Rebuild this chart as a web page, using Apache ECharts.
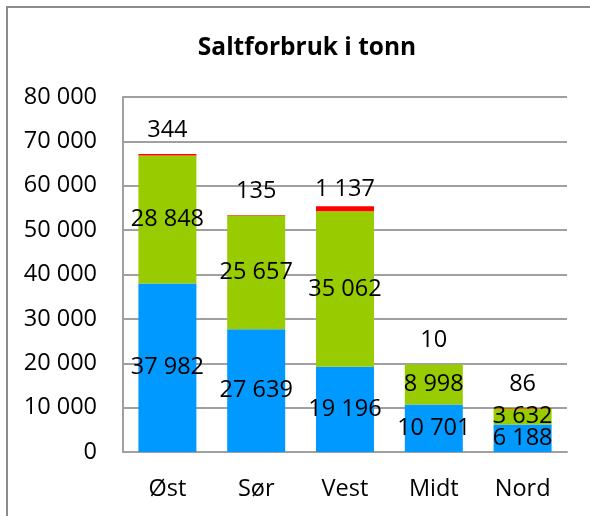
<!DOCTYPE html>
<html>
<head>
<meta charset="utf-8">
<script src="https://cdn.jsdelivr.net/npm/echarts@6/dist/echarts.min.js"></script>
<style>
  html, body { margin: 0; padding: 0; background: #fff; }
  #chart { width: 590px; height: 516px; }
</style>
</head>
<body>
<div id="chart"></div>
<script>
// regions and salt use (tonn)
var regions = ['Øst', 'Sør', 'Vest', 'Midt', 'Nord'];
var blueVals = [37982, 27639, 19196, 10701, 6188];
var greenVals = [28848, 25657, 35062, 8998, 3632];
var redVals = [344, 135, 1137, 10, 86];

var FONT = 'Open Sans';
var FS = 23.5;

function fmt(v) {
  return String(v).replace(/\B(?=(\d{3})+(?!\d))/g, ' ');
}

var chart = echarts.init(document.getElementById('chart'));
chart.setOption({
  animation: false,
  title: {
    text: 'Saltforbruk i tonn',
    left: 302,
    top: 31,
    textAlign: 'center',
    textStyle: { fontFamily: FONT, fontSize: 24.5, fontWeight: 'bold', color: '#000' }
  },
  graphic: [{
    type: 'rect',
    shape: { x: 7, y: 7, width: 620, height: 540 },
    style: { fill: 'none', stroke: '#8c8c8c', lineWidth: 2 },
    silent: true
  }],
  grid: { left: 123, right: 23, top: 97, bottom: 64 },
  xAxis: {
    type: 'category',
    data: regions,
    axisLine: { lineStyle: { color: '#a0a0a0', width: 2 } },
    axisTick: { show: false },
    axisLabel: { fontFamily: FONT, fontSize: FS, color: '#000', margin: 25 }
  },
  yAxis: {
    type: 'value',
    min: 0,
    max: 80000,
    interval: 10000,
    axisLine: { show: true, lineStyle: { color: '#a0a0a0', width: 2 } },
    axisTick: { show: false },
    splitLine: { lineStyle: { color: '#a0a0a0', width: 2 } },
    axisLabel: { fontFamily: FONT, fontSize: FS, color: '#000', margin: 26, formatter: fmt }
  },
  series: [{
    name: 'blå',
    type: 'bar',
    stack: 'salt',
    barWidth: 58,
    data: blueVals,
    itemStyle: { color: '#0099ff' },
    label: { show: true, position: 'inside', fontFamily: FONT, fontSize: FS, color: '#000',
      formatter: function (p) { return fmt(p.value); } }
  }, {
    name: 'grønn',
    type: 'bar',
    stack: 'salt',
    barWidth: 58,
    data: greenVals,
    itemStyle: { color: '#99cc00' },
    label: { show: true, position: 'inside', fontFamily: FONT, fontSize: FS, color: '#000',
      formatter: function (p) { return fmt(p.value); } }
  }, {
    name: 'rød',
    type: 'bar',
    stack: 'salt',
    barWidth: 58,
    data: redVals.map(function (v, i) {
      return i === 2 ? { value: v, label: { distance: 5 } } : v;
    }),
    itemStyle: { color: '#ff0000' },
    label: { show: true, position: 'top', distance: 12, fontFamily: FONT, fontSize: FS, color: '#000',
      formatter: function (p) { return fmt(p.value); } }
  }]
});
</script>
</body>
</html>
